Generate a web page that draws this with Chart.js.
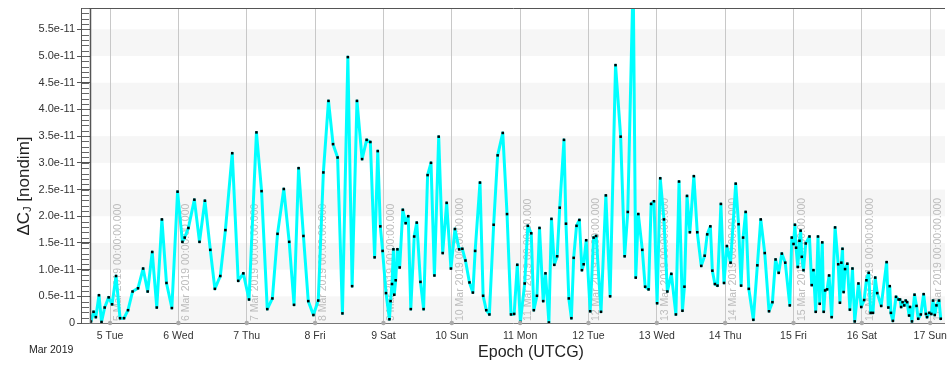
<!DOCTYPE html>
<html>
<head>
<meta charset="utf-8">
<script src="https://cdn.jsdelivr.net/npm/chart.js@4.4.0/dist/chart.umd.min.js"></script>
<style>
  body { margin: 0; background: #fff; }
  #wrap { width: 949px; height: 367px; }
</style>
</head>
<body>
<div id="wrap"><canvas id="deltaChart" width="949" height="367"></canvas></div>
<script>
// hours since 5 Mar 2019 00:00 UTCG
const epochHours = [
  -6.7, -5.8, -5.0, -3.9, -3.0, -1.9, -0.5, 0.7, 2.1, 3.5, 4.9, 6.3, 7.9, 9.8, 11.6, 13.2, 14.8, 16.4, 18.2, 19.8,
  21.7, 23.7, 25.4, 26.2, 27.5, 29.6, 31.4, 33.3, 35.2, 36.8, 38.7, 40.5, 42.9, 45.0, 46.8, 48.8, 51.4, 53.2, 55.2, 57.0,
  58.8, 61.0, 62.9, 64.6, 66.2, 67.9, 69.6, 71.4, 73.1, 74.9, 76.7, 78.3, 79.9, 81.6, 83.5, 85.0, 86.7, 88.5, 90.1, 91.4,
  92.9, 94.0, 94.9, 95.7, 96.9, 98.1, 98.5, 99.0, 99.5, 99.8, 100.3, 100.9, 101.7, 102.8, 103.8, 104.7, 105.6, 106.8, 107.7, 109.0,
  110.1, 111.5, 112.7, 113.9, 115.4, 116.8, 118.2, 119.7, 121.1, 122.6, 123.7, 124.8, 126.2, 127.4, 128.2, 129.9, 131.0, 132.1, 133.2, 134.7,
  136.1, 137.9, 139.4, 140.8, 141.9, 143.0, 144.1, 145.6, 146.7, 147.9, 148.8, 149.9, 150.8, 152.1, 152.9, 154.1, 155.0, 156.0, 157.0, 157.9,
  159.4, 160.1, 161.1, 162.0, 162.8, 163.8, 164.8, 165.7, 166.3, 167.2, 168.6, 169.8, 170.7, 172.4, 174.1, 175.6, 177.5, 179.3, 180.7, 181.8,
  183.7, 184.6, 185.5, 186.9, 187.9, 189.1, 190.0, 191.0, 192.1, 193.2, 194.5, 195.7, 197.1, 198.7, 199.8, 201.0, 201.7, 202.6, 203.6, 205.0,
  206.2, 207.6, 208.8, 209.7, 210.8, 211.5, 212.4, 213.3, 214.5, 215.6, 216.6, 217.9, 219.7, 220.7, 221.6, 222.3, 223.2, 224.3, 225.9, 227.3,
  228.5, 229.9, 231.4, 232.6, 233.7, 234.8, 235.9, 237.1, 238.7, 239.4, 240.0, 240.5, 240.9, 241.5, 242.1, 242.5, 242.9, 243.5, 244.3, 245.6,
  246.4, 247.0, 247.8, 248.6, 249.2, 250.1, 250.6, 251.1, 251.8, 252.5, 253.4, 254.6, 255.7, 256.3, 256.8, 257.2, 257.6, 258.1, 258.9, 259.8,
  260.7, 261.5, 262.8, 263.8, 264.8, 265.6, 266.4, 267.1, 267.9, 268.7, 269.4, 270.8, 272.7, 273.3, 273.8, 274.2, 274.9, 276.0, 276.9, 277.4,
  277.8, 278.3, 278.9, 279.4, 279.9, 280.6, 280.9, 281.6, 282.5, 283.2, 283.8, 284.7, 285.7, 286.5, 286.9, 287.7, 288.4, 289.0, 289.6, 290.2,
  291.1, 291.7
];

// delta CJ in units of 1e-11
const deltaCjE11 = [
  0.03, 0.21, 0.11, 0.52, 0.02, 0.29, 0.48, 0.35, 0.88, 0.09, 0.09, 0.24, 0.59, 0.65, 1.02, 0.59, 1.33, 0.29, 1.94, 0.75,
  0.28, 2.46, 1.52, 1.60, 1.78, 2.31, 1.52, 2.29, 1.37, 0.64, 0.88, 1.74, 3.18, 0.79, 0.93, 0.44, 3.57, 2.47, 0.26, 0.46,
  1.67, 2.51, 1.52, 0.34, 2.90, 1.63, 0.41, 0.15, 0.42, 2.82, 4.16, 3.35, 3.10, 0.18, 4.98, 0.69, 4.16, 3.07, 3.43, 3.39,
  1.23, 3.22, 1.81, 1.35, 0.56, 0.07, 0.41, 0.73, 1.38, 0.53, 0.80, 1.38, 1.04, 2.12, 1.87, 2.00, 0.26, 1.62, 1.88, 0.77,
  0.26, 2.77, 3.00, 0.89, 3.49, 1.31, 2.25, 1.02, 1.76, 1.38, 1.39, 1.17, 0.76, 0.57, 1.35, 2.63, 0.51, 0.24, 0.16, 1.84,
  3.14, 3.56, 2.04, 0.16, 0.17, 1.09, 0.02, 0.74, 1.82, 1.68, 0.24, 0.51, 1.78, 0.41, 0.93, 0.01, 1.95, 1.09, 1.25, 2.16,
  3.43, 1.86, 0.46, 0.09, 1.22, 1.82, 1.93, 0.99, 1.10, 1.55, 0.22, 1.60, 1.63, 0.21, 2.39, 0.50, 4.83, 3.49, 1.25, 2.08,
  6.50, 0.85, 2.04, 1.37, 0.68, 0.63, 2.23, 2.28, 0.37, 2.71, 1.94, 0.59, 0.92, 0.16, 2.65, 0.23, 0.68, 2.38, 1.70, 2.75,
  1.70, 1.07, 1.26, 1.66, 1.81, 0.98, 0.73, 0.70, 2.23, 0.75, 1.44, 1.13, 2.61, 1.85, 0.70, 1.60, 2.08, 0.64, 0.06, 1.08,
  1.94, 1.31, 0.22, 0.39, 1.19, 0.94, 1.30, 1.13, 0.33, 1.60, 1.48, 1.84, 1.41, 1.05, 1.54, 1.73, 1.24, 0.99, 1.49, 1.62,
  0.71, 0.99, 0.21, 1.62, 0.36, 1.51, 0.21, 0.61, 0.63, 0.89, 0.11, 1.79, 1.10, 0.38, 1.13, 1.39, 0.58, 1.01, 1.11, 0.25,
  1.02, 0.03, 0.74, 0.30, 0.43, 0.80, 0.94, 0.19, 0.19, 0.85, 0.56, 0.32, 1.14, 0.29, 0.69, 0.19, 0.04, 0.49, 0.44, 0.44,
  0.30, 0.39, 0.33, 0.42, 0.39, 0.14, 0.30, 0.03, 0.53, 0.32, 0.08, 0.16, 0.54, 0.17, 0.11, 0.19, 0.17, 0.42, 0.15, 0.33,
  0.42, 0.08
];

const dayTicks = [0, 24, 48, 72, 96, 120, 144, 168, 192, 216, 240, 264, 288];
const dayLabels = ['5 Tue', '6 Wed', '7 Thu', '8 Fri', '9 Sat', '10 Sun', '11 Mon', '12 Tue', '13 Wed', '14 Thu', '15 Fri', '16 Sat', '17 Sun'];
const dayStamps = [
  '5 Mar 2019 00:00:00.000', '6 Mar 2019 00:00:00.000', '7 Mar 2019 00:00:00.000', '8 Mar 2019 00:00:00.000',
  '9 Mar 2019 00:00:00.000', '10 Mar 2019 00:00:00.000', '11 Mar 2019 00:00:00.000', '12 Mar 2019 00:00:00.000',
  '13 Mar 2019 00:00:00.000', '14 Mar 2019 00:00:00.000', '15 Mar 2019 00:00:00.000', '16 Mar 2019 00:00:00.000',
  '17 Mar 2019 00:00:00.000'
];
const yTickValues = [0, 0.5, 1.0, 1.5, 2.0, 2.5, 3.0, 3.5, 4.0, 4.5, 5.0, 5.5];
const yTickLabels = ['0', '0.5e-11', '1.0e-11', '1.5e-11', '2.0e-11', '2.5e-11', '3.0e-11', '3.5e-11', '4.0e-11', '4.5e-11', '5.0e-11', '5.5e-11'];

const FONT = 'Arial, "Liberation Sans", sans-serif';

// bandas grises alternas + fondo blanco
const bandsPlugin = {
  id: 'bands',
  beforeDraw(chart) {
    const { ctx, chartArea: a, scales: { y } } = chart;
    ctx.save();
    ctx.fillStyle = '#fff';
    ctx.fillRect(0, 0, chart.width, chart.height);
    ctx.fillStyle = '#f6f6f6';
    for (let i = 0; i < yTickValues.length - 1; i += 2) {
      const top = y.getPixelForValue(yTickValues[i + 1]);
      const bot = y.getPixelForValue(yTickValues[i]);
      ctx.fillRect(a.left, top, a.right - a.left, bot - top);
    }
    ctx.restore();
  }
};

// etiquetas verticales de cada día (debajo de la línea)
const stampPlugin = {
  id: 'stamps',
  beforeDatasetsDraw(chart) {
    const { ctx, chartArea: a, scales: { x } } = chart;
    ctx.save();
    ctx.font = '10.5px ' + FONT;
    ctx.fillStyle = '#bdbdbd';
    ctx.textAlign = 'left';
    ctx.textBaseline = 'alphabetic';
    dayTicks.forEach((t, i) => {
      const px = x.getPixelForValue(t);
      ctx.save();
      ctx.translate(px + 11, a.bottom - 2);
      ctx.rotate(-Math.PI / 2);
      ctx.fillText(dayStamps[i], 0, 0);
      ctx.restore();
    });
    ctx.restore();
  }
};

// marco, regla del eje Y y títulos
const framePlugin = {
  id: 'frame',
  afterDraw(chart) {
    const { ctx, chartArea: a, scales: { x, y } } = chart;
    ctx.save();
    ctx.strokeStyle = '#555';
    ctx.lineWidth = 1;
    ctx.beginPath();
    ctx.moveTo(a.left - 9, a.top + 0.5); ctx.lineTo(a.right, a.top + 0.5);
    ctx.moveTo(a.left - 9.5, a.top); ctx.lineTo(a.left - 9.5, a.bottom);
    ctx.stroke();
    ctx.lineWidth = 1.5;
    ctx.beginPath();
    ctx.moveTo(a.left - 0.5, a.top); ctx.lineTo(a.left - 0.5, a.bottom);
    ctx.stroke();
    ctx.strokeStyle = '#777';
    ctx.lineWidth = 1;
    ctx.beginPath();
    ctx.moveTo(a.left - 9, a.bottom + 0.5); ctx.lineTo(a.right, a.bottom + 0.5);
    ctx.stroke();
    // minor ticks
    ctx.strokeStyle = '#666';
    ctx.beginPath();
    for (let i = 0; i <= 59; i++) {
      const py = Math.round(y.getPixelForValue(i / 10)) + 0.5;
      ctx.moveTo(a.left - 9, py); ctx.lineTo(a.left - 2, py);
    }
    ctx.stroke();
    // little markers on the axis at each day
    ctx.fillStyle = '#aaa';
    dayTicks.forEach(t => {
      ctx.beginPath();
      ctx.arc(x.getPixelForValue(t), a.bottom, 2.2, 0, Math.PI * 2);
      ctx.fill();
    });
    // titles
    ctx.fillStyle = '#222';
    ctx.font = '16px ' + FONT;
    ctx.textAlign = 'center';
    ctx.textBaseline = 'middle';
    ctx.fillText('Epoch (UTCG)', 531, 353);
    ctx.font = '10.5px ' + FONT;
    ctx.textAlign = 'left';
    ctx.fillText('Mar 2019', 29, 350);
    // y title with subscript J
    ctx.translate(23, 186);
    ctx.rotate(-Math.PI / 2);
    ctx.font = '17px ' + FONT;
    const p1 = '\u0394C', p2 = 'J', p3 = ' [nondim]';
    const w1 = ctx.measureText(p1).width, w3 = ctx.measureText(p3).width;
    ctx.font = '11px ' + FONT;
    const w2 = ctx.measureText(p2).width;
    const start = -(w1 + w2 + w3) / 2;
    ctx.textBaseline = 'alphabetic';
    ctx.font = '17px ' + FONT;
    ctx.fillText(p1, start, 6);
    ctx.font = '11px ' + FONT;
    ctx.fillText(p2, start + w1, 8);
    ctx.font = '17px ' + FONT;
    ctx.fillText(p3, start + w1 + w2, 6);
    ctx.restore();
  }
};

const ctx = document.getElementById('deltaChart').getContext('2d');

const deltaChart = new Chart(ctx, {
  type: 'line',
  data: {
    datasets: [{
      label: 'ΔCJ',
      data: epochHours.map((t, i) => ({ x: t, y: deltaCjE11[i] })),
      borderColor: '#00ffff',
      borderWidth: 3,
      borderJoinStyle: 'round',
      borderCapStyle: 'round',
      tension: 0,
      pointStyle: 'rect',
      pointRadius: 1.8,
      pointBorderWidth: 0,
      pointBackgroundColor: '#000',
      fill: false
    }]
  },
  options: {
    responsive: false,
    animation: false,
    layout: { padding: { top: 8, right: 0, left: 0, bottom: 0 } },
    plugins: { legend: { display: false }, tooltip: { enabled: false } },
    scales: {
      x: {
        type: 'linear',
        min: -6.7,
        max: 293.2,
        afterFit: s => { s.height = 44; s.paddingLeft = 0; s.paddingRight = 0; },
        afterBuildTicks: s => { s.ticks = dayTicks.map(v => ({ value: v })); },
        border: { display: false },
        grid: { color: '#c8c8c8', drawTicks: false, lineWidth: 1 },
        ticks: {
          autoSkip: false,
          maxRotation: 0,
          padding: 7,
          color: '#333',
          font: { family: FONT, size: 10.5 },
          callback: (v, i) => dayLabels[i]
        }
      },
      y: {
        min: 0,
        max: 5.9,
        afterFit: s => { s.width = 91; s.paddingTop = 0; s.paddingBottom = 0; },
        afterBuildTicks: s => { s.ticks = yTickValues.map(v => ({ value: v })); },
        border: { display: false },
        grid: { drawOnChartArea: false, drawTicks: true, tickLength: 14, color: '#555' },
        ticks: {
          padding: 2,
          color: '#333',
          font: { family: FONT, size: 11 },
          callback: (v, i) => yTickLabels[i]
        }
      }
    }
  },
  plugins: [bandsPlugin, stampPlugin, framePlugin]
});
</script>
</body>
</html>
